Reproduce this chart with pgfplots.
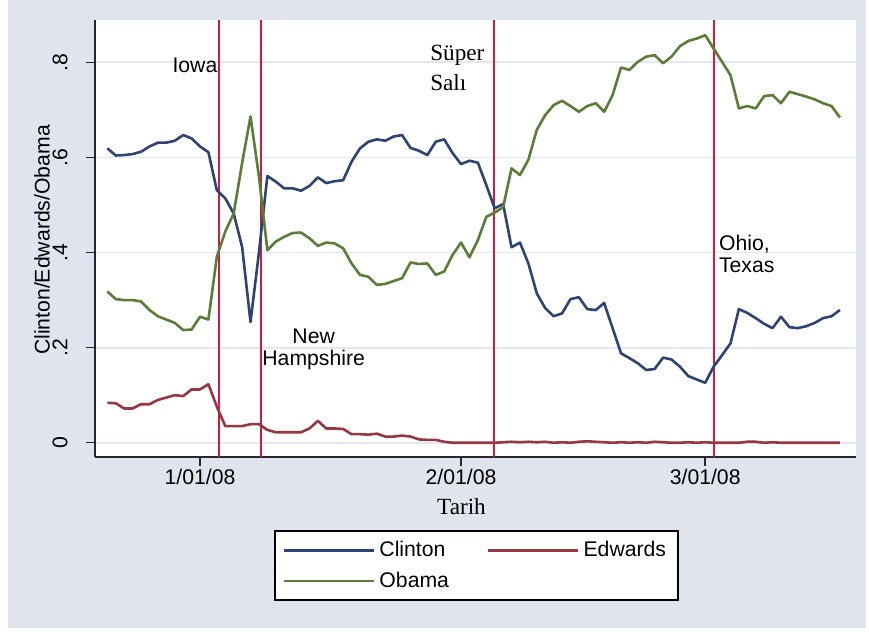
\documentclass[border=0pt]{standalone}
\usepackage{fontspec}
\setmainfont{Liberation Sans}
\newfontfamily\seriffont{Liberation Serif}
\usepackage{pgfplots}
\pgfplotsset{compat=1.18}
\definecolor{bgc}{RGB}{223,228,238}
\definecolor{gridc}{RGB}{226,232,242}
\definecolor{clintonc}{RGB}{45,68,115}
\definecolor{edwardsc}{RGB}{150,55,65}
\definecolor{obamac}{RGB}{90,125,55}
\definecolor{vlinec}{RGB}{210,25,70}
\definecolor{axc}{RGB}{40,40,40}
\begin{document}
\begin{tikzpicture}[font=\fontsize{10.6}{12.7}\selectfont]
\fill[white] (0pt,0pt) rectangle (434.5pt,316pt);
\fill[bgc] (4pt,2pt) rectangle (433pt,316pt);
\begin{axis}[
  at={(47.5pt,87.5pt)}, anchor=south west,
  width=380.5pt, height=218.5pt, scale only axis,
  xmin=-12.47, xmax=77.91, ymin=-0.030, ymax=0.889,
  axis background/.style={fill=white},
  axis x line*=bottom, axis y line*=left,
  axis line style={axc, line width=0.9pt},
  tick align=outside, major tick length=4.5pt,
  tick style={axc, line width=0.75pt},
  xtick={0,31,60}, xticklabels={1/01/08,2/01/08,3/01/08},
  ytick={0,0.2,0.4,0.6,0.8}, yticklabels={0,.2,.4,.6,.8},
  ymajorgrids, grid style={gridc, line width=0.9pt},
  xticklabel style={anchor=center, yshift=-5.5pt},
  yticklabel style={anchor=center, xshift=-13pt, rotate=90},
  legend columns=2,
  legend cell align=left,
  legend image code/.code={\draw[#1] (0pt,0pt) -- (41.5pt,0pt); \path (0pt,0pt) -- (45pt,0pt);},
  legend style={at={(rel axis cs:0.2352,-0.3295)}, anchor=south west,
    draw=black, line width=0.9pt, fill=white, inner xsep=4pt, inner ysep=3pt,
    row sep=2pt,
    /tikz/every even column/.append style={column sep=17pt},
    font=\fontsize{10.6}{12.7}\selectfont},
  clip=true,
]
\addplot[vlinec, line width=1pt, forget plot] coordinates {(2.2,-0.03) (2.2,0.889)};
\addplot[vlinec, line width=1pt, forget plot] coordinates {(7.25,-0.03) (7.25,0.889)};
\addplot[vlinec, line width=1pt, forget plot] coordinates {(34.95,-0.03) (34.95,0.889)};
\addplot[vlinec, line width=1pt, forget plot] coordinates {(61.1,-0.03) (61.1,0.889)};
\addplot[clintonc, line width=1.3pt, line join=round] coordinates {
(-11,0.619) (-10,0.604) (-9,0.605) (-8,0.607) (-7,0.612) (-6,0.623) (-5,0.631) (-4,0.631)
(-3,0.635) (-2,0.647) (-1,0.640) (0,0.623) (1,0.611) (2,0.531) (3,0.514) (4,0.482)
(5,0.412) (6,0.254) (7,0.400) (8,0.561) (9,0.549) (10,0.535) (11,0.535) (12,0.530)
(13,0.540) (14,0.558) (15,0.546) (16,0.550) (17,0.552) (18,0.591) (19,0.619) (20,0.633)
(21,0.638) (22,0.635) (23,0.644) (24,0.647) (25,0.620) (26,0.614) (27,0.605) (28,0.633)
(29,0.638) (30,0.609) (31,0.586) (32,0.593) (33,0.589) (34,0.542) (35,0.493) (36,0.502)
(37,0.411) (38,0.421) (39,0.377) (40,0.314) (41,0.283) (42,0.266) (43,0.272) (44,0.302)
(45,0.306) (46,0.281) (47,0.279) (48,0.294) (49,0.241) (50,0.188) (51,0.178) (52,0.167)
(53,0.153) (54,0.155) (55,0.179) (56,0.175) (57,0.160) (58,0.140) (59,0.133) (60,0.126)
(61,0.160) (62,0.184) (63,0.209) (64,0.281) (65,0.273) (66,0.262) (67,0.250) (68,0.241)
(69,0.265) (70,0.243) (71,0.241) (72,0.245) (73,0.252) (74,0.262) (75,0.266) (76,0.279)
};
\addlegendentry{Clinton}
\addplot[edwardsc, line width=1.3pt, line join=round] coordinates {
(-11,0.084) (-10,0.083) (-9,0.072) (-8,0.072) (-7,0.081) (-6,0.081) (-5,0.090) (-4,0.095)
(-3,0.100) (-2,0.098) (-1,0.112) (0,0.112) (1,0.123) (2,0.076) (3,0.035) (4,0.035)
(5,0.035) (6,0.039) (7,0.039) (8,0.027) (9,0.022) (10,0.022) (11,0.022) (12,0.022)
(13,0.030) (14,0.046) (15,0.030) (16,0.030) (17,0.029) (18,0.018) (19,0.018) (20,0.017)
(21,0.019) (22,0.013) (23,0.013) (24,0.015) (25,0.013) (26,0.007) (27,0.006) (28,0.006)
(29,0.002) (30,0.000) (31,0.000) (32,0.000) (33,0.000) (34,0.000) (35,0.000) (36,0.001)
(37,0.002) (38,0.001) (39,0.002) (40,0.001) (41,0.002) (42,0.000) (43,0.001) (44,0.000)
(45,0.002) (46,0.003) (47,0.002) (48,0.001) (49,0.000) (50,0.001) (51,0.000) (52,0.001)
(53,0.000) (54,0.002) (55,0.001) (56,0.000) (57,0.000) (58,0.001) (59,0.000) (60,0.001)
(61,0.000) (62,0.000) (63,0.000) (64,0.000) (65,0.002) (66,0.002) (67,0.000) (68,0.001)
(69,0.000) (70,0.000) (71,0.000) (72,0.000) (73,0.000) (74,0.000) (75,0.000) (76,0.000)
};
\addlegendentry{Edwards}
\addplot[obamac, line width=1.3pt, line join=round] coordinates {
(-11,0.318) (-10,0.302) (-9,0.300) (-8,0.300) (-7,0.297) (-6,0.279) (-5,0.266) (-4,0.259)
(-3,0.252) (-2,0.237) (-1,0.238) (0,0.265) (1,0.259) (2,0.391) (3,0.444) (4,0.482)
(5,0.588) (6,0.686) (7,0.560) (8,0.405) (9,0.423) (10,0.433) (11,0.441) (12,0.442)
(13,0.430) (14,0.414) (15,0.421) (16,0.419) (17,0.409) (18,0.377) (19,0.353) (20,0.349)
(21,0.332) (22,0.334) (23,0.340) (24,0.346) (25,0.379) (26,0.376) (27,0.377) (28,0.353)
(29,0.360) (30,0.395) (31,0.421) (32,0.390) (33,0.426) (34,0.475) (35,0.484) (36,0.495)
(37,0.577) (38,0.563) (39,0.595) (40,0.658) (41,0.689) (42,0.710) (43,0.719) (44,0.708)
(45,0.696) (46,0.708) (47,0.714) (48,0.696) (49,0.731) (50,0.789) (51,0.784) (52,0.801)
(53,0.812) (54,0.815) (55,0.798) (56,0.812) (57,0.834) (58,0.845) (59,0.850) (60,0.857)
(61,0.829) (62,0.801) (63,0.773) (64,0.703) (65,0.708) (66,0.703) (67,0.729) (68,0.731)
(69,0.714) (70,0.738) (71,0.733) (72,0.728) (73,0.722) (74,0.714) (75,0.708) (76,0.684)
};
\addlegendentry{Obama}
\node[anchor=center] at (axis cs:-0.6,0.794) {Iowa};
\node[anchor=center, align=center, font=\fontsize{10.6}{11}\selectfont] at (axis cs:13.5,0.197) {New\\Hampshire};
\node[anchor=west, align=left, font=\seriffont\fontsize{11.6}{15}\selectfont, inner xsep=0pt] at (axis cs:27.3,0.788) {Süper\\Salı};
\node[anchor=west, align=left, font=\fontsize{10.6}{11}\selectfont, inner xsep=0pt] at (axis cs:61.6,0.396) {Ohio,\\Texas};
\end{axis}
\node[rotate=90, anchor=center] at (21pt,196pt) {Clinton/Edwards/Obama};
\node[anchor=center, font=\seriffont\fontsize{11.6}{13}\selectfont] at (230.75pt,62.5pt) {Tarih};
\end{tikzpicture}
\end{document}
